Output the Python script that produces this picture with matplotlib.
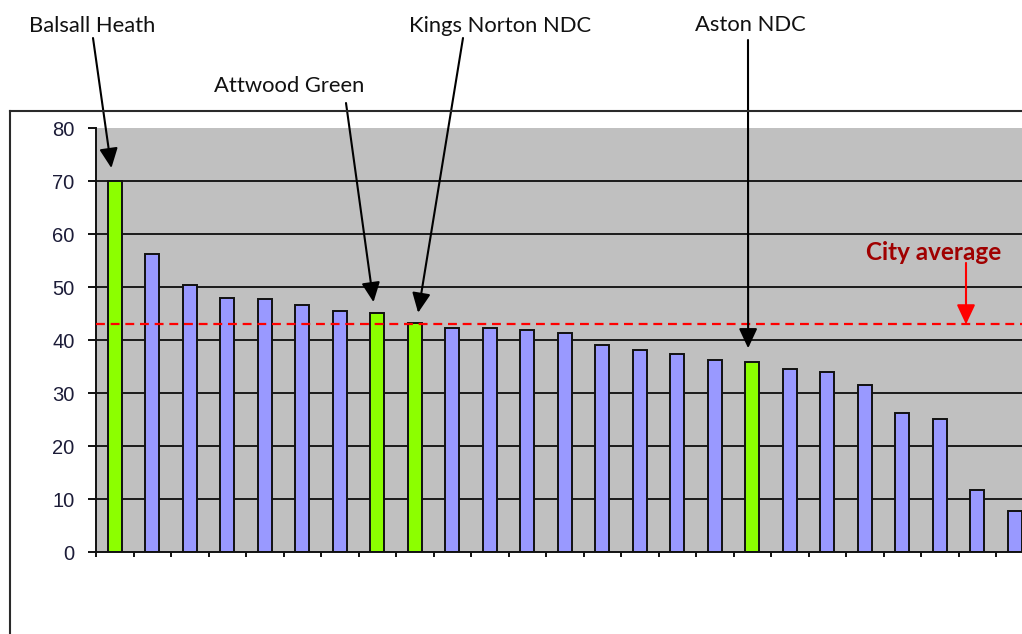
import matplotlib
matplotlib.use("Agg")
import matplotlib.pyplot as plt
from matplotlib.lines import Line2D
from matplotlib.ticker import FixedLocator, NullLocator

# Values per area, sorted high to low
values = [70.0, 56.2, 50.5, 48.0, 47.7, 46.6, 45.5, 45.2, 43.3, 42.3, 42.3, 41.9,
          41.3, 39.2, 38.1, 37.4, 36.3, 35.9, 34.5, 34.1, 31.6, 26.3, 25.2, 11.8, 7.8]
# Indices of the highlighted (named) areas
highlight = {0: "Balsall Heath", 7: "Attwood Green", 8: "Kings Norton NDC", 17: "Aston NDC"}
city_average = 43.0
y_ticks = [0, 10, 20, 30, 40, 50, 60, 70, 80]

W, H, DPI = 1022, 634, 100
fig = plt.figure(figsize=(W / DPI, H / DPI), dpi=DPI)
fig.patch.set_facecolor("white")

# Plot area: 37.5 px per category, 5.3 px per unit; runs past the right edge
left_px, bottom_px, top_px = 96, 552.3, 128.3
n_slots = 26
ax = fig.add_axes([left_px / W, (H - bottom_px) / H,
                   n_slots * 37.5 / W, (bottom_px - top_px) / H])
ax.set_facecolor("#C0C0C0")
ax.set_xlim(-0.5, n_slots - 0.5)
ax.set_ylim(0, 80)

# Grid lines
for t in y_ticks[1:-1]:
    ax.axhline(t, color="#1a1a1a", lw=1.4, zorder=1)

colors = ["#8CFF00" if i in highlight else "#9999FF" for i in range(len(values))]
ax.bar(range(len(values)), values, width=0.38, color=colors,
       edgecolor="#111111", linewidth=1.4, zorder=3)

# City average line
ax.axhline(city_average, color="#FF0000", lw=1.6, ls=(0, (4, 2.6)), zorder=4)

for s in ["top", "right"]:
    ax.spines[s].set_visible(False)
ax.spines["left"].set_color("#111111")
ax.spines["left"].set_linewidth(1.4)
ax.spines["bottom"].set_color("#111111")
ax.spines["bottom"].set_linewidth(1.4)
ax.spines["bottom"].set_zorder(5)

ax.yaxis.set_major_locator(FixedLocator(y_ticks))
ax.tick_params(axis="y", direction="out", length=6, width=1.4, color="#111111",
               pad=9.5, labelsize=14.5, labelcolor="#1c1c38")
for lab in ax.get_yticklabels():
    lab.set_family("Liberation Sans")
ax.xaxis.set_major_locator(NullLocator())
ax.xaxis.set_minor_locator(FixedLocator([i - 0.5 for i in range(n_slots + 1)]))
ax.tick_params(axis="x", which="minor", direction="out", length=3.5, width=1.4,
               color="#111111")

# Labels and arrows for the named areas
label_font = dict(family="Lato", fontsize=15.8, color="#111111")
arrow_kw = dict(arrowstyle="-|>,head_length=0.6,head_width=0.28", mutation_scale=20,
                color="black", lw=1.5, shrinkA=0, shrinkB=0)
labels = [  # (index, text x px, text baseline y px, arrow start px, tip dx, tip dy)
    (0, 92, 32, (93, 38), -0.09, 2.5),
    (7, 289, 92, (346, 103), -0.1, 2.0),
    (8, 500.5, 31.5, (463, 38), 0.09, 1.9),
    (17, 750, 31, (748, 40), -0.11, 2.6),
]
for idx, tx, ty, (sx, sy), dx, dy in labels:
    fig.text(tx / W, (H - ty) / H, highlight[idx], ha="center", va="baseline",
             **label_font)
    ax.annotate("", xy=(idx + dx, values[idx] + dy), xycoords="data",
                xytext=(sx, H - sy), textcoords="figure pixels",
                arrowprops=arrow_kw, annotation_clip=False, zorder=6)

# City average label and arrow
avg_x = 22.7
ax.text(avg_x - 0.85, 56.6, "City average", ha="center", va="center",
        family="Lato", fontweight="bold", fontsize=17.5, color="#A00000", zorder=6)
ax.annotate("", xy=(avg_x, city_average), xytext=(avg_x, 54.6),
            arrowprops=dict(arrowstyle="-|>,head_length=0.6,head_width=0.28",
                            mutation_scale=20, color="#FF0000", lw=1.5,
                            shrinkA=0, shrinkB=0), zorder=6)

# Outer chart frame (left and top edges)
frame_kw = dict(color="#2a2a2a", lw=1.5, transform=None)
fig.add_artist(Line2D([9.5, 9.5], [0, H - 111], **frame_kw))
fig.add_artist(Line2D([9.5, W + 5], [H - 111, H - 111], **frame_kw))

fig.savefig("out.png", dpi=DPI)
